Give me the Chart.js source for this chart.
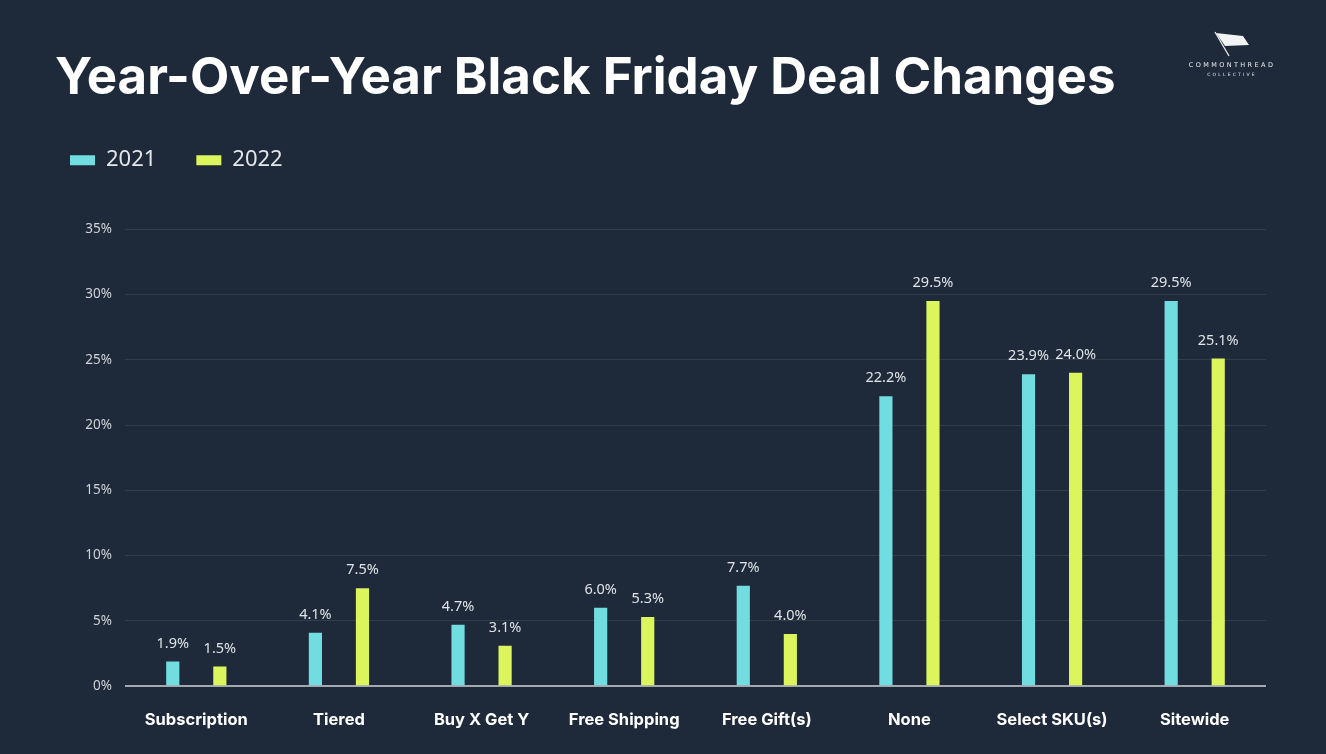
<!DOCTYPE html>
<html>
<head>
<meta charset="utf-8">
<script src="https://cdn.jsdelivr.net/npm/chart.js@4.4.0/dist/chart.umd.min.js"></script>
<style>
  html, body { margin: 0; padding: 0; background: #1e2a39; }
  #wrap { position: relative; width: 1326px; height: 754px; }
  .logo { position: absolute; left: 1180px; top: 31px; width: 104px; text-align: center; color: #e8eaec; font-family: "DejaVu Sans", sans-serif; }
  .logo .big { font-size: 6.5px; letter-spacing: 2.4px; margin-top: 0px; }
  .logo .small { font-size: 4.5px; letter-spacing: 2.2px; margin-top: 3px; }
</style>
</head>
<body>
<div id="wrap">
  <canvas id="deals"></canvas>
  <div class="logo">
    <svg width="46" height="26" viewBox="0 0 46 26">
      <line x1="6" y1="1" x2="20" y2="25" stroke="#e8eaec" stroke-width="1.3"/>
      <path d="M7 2 L34 5 L40 14 L16 15 Z" fill="#f2f3f4"/>
    </svg>
    <div class="big">COMMONTHREAD</div>
    <div class="small">COLLECTIVE</div>
  </div>
</div>
<script>
// Year-over-year Black Friday deal types (share of brands, %)
const categories = ['Subscription', 'Tiered', 'Buy X Get Y', 'Free Shipping', 'Free Gift(s)', 'None', 'Select SKU(s)', 'Sitewide'];
const values2021 = [1.9, 4.1, 4.7, 6.0, 7.7, 22.2, 23.9, 29.5];
const values2022 = [1.5, 7.5, 3.1, 5.3, 4.0, 29.5, 24.0, 25.1];
const seriesLabels = ['2021', '2022'];
const yTicks = [0, 5, 10, 15, 20, 25, 30, 35];

const cyan = '#72dde1';
const lime = '#dcf55c';

// push the plot down below the legend, and pull the legend left
const legendSpacer = {
	id: 'legendSpacer',
	beforeInit(chart) {
		const fit = chart.legend.fit;
		chart.legend.fit = function() {
			fit.bind(chart.legend)();
			this.height += 48;
		};
	},
	afterLayout(chart) {
		chart.legend.left = 30;
	}
};

// value labels above each bar
const barValues = {
	id: 'barValues',
	afterDatasetsDraw(chart) {
		const ctx = chart.ctx;
		ctx.save();
		ctx.font = '14.5px "Noto Sans", sans-serif';
		ctx.fillStyle = '#dfe3e7';
		ctx.textAlign = 'center';
		ctx.textBaseline = 'middle';
		chart.data.datasets.forEach((ds, i) => {
			chart.getDatasetMeta(i).data.forEach((bar, j) => {
				ctx.fillText(ds.data[j].toFixed(1) + '%', bar.x, bar.y - 18);
			});
		});
		ctx.restore();
	}
};

const ctx = document.getElementById('deals').getContext('2d');
document.getElementById('wrap').style.height = '754px';

var myChart = new Chart(ctx, {
	type: 'bar',
	data: {
		labels: categories,
		datasets: [{
			label: seriesLabels[0],
			data: values2021,
			backgroundColor: cyan,
			categoryPercentage: 0.66,
			barPercentage: 0.28
		}, {
			label: seriesLabels[1],
			data: values2022,
			backgroundColor: lime,
			categoryPercentage: 0.66,
			barPercentage: 0.28
		}]
	},
	options: {
		responsive: true,
		maintainAspectRatio: false,
		animation: false,
		layout: {
			padding: { top: 0, left: 55, right: 60, bottom: 0 }
		},
		plugins: {
			title: {
				display: true,
				text: 'Year-Over-Year Black Friday Deal Changes',
				align: 'start',
				color: '#ffffff',
				font: { family: 'Inter', size: 51, weight: '700' },
				padding: { top: 48, bottom: 0 }
			},
			legend: {
				position: 'top',
				align: 'start',
				labels: {
					color: '#e4e7ea',
					font: { family: '"Noto Sans"', size: 22 },
					boxWidth: 25,
					boxHeight: 10,
					padding: 40
				}
			},
			tooltip: { enabled: false }
		},
		scales: {
			x: {
				grid: { display: false, drawTicks: false },
				border: { display: false },
				ticks: {
					color: '#ffffff',
					font: { family: 'Inter', size: 16.5, weight: '700' },
					padding: 24
				}
			},
			y: {
				min: 0,
				max: 35,
				afterFit(scale) { scale.width = 70; },
				afterBuildTicks(scale) { scale.ticks = yTicks.map(v => ({ value: v })); },
				grid: {
					drawTicks: false,
					color: (c) => c.index === 0 ? '#a3a8ae' : 'rgba(255,255,255,0.09)',
					lineWidth: (c) => c.index === 0 ? 2 : 1
				},
				border: { display: false },
				ticks: {
					color: '#cfd4d9',
					font: { family: '"Noto Sans"', size: 13.5 },
					padding: 13,
					callback: (v) => v + '%'
				}
			}
		}
	},
	plugins: [legendSpacer, barValues]
});
</script>
</body>
</html>
